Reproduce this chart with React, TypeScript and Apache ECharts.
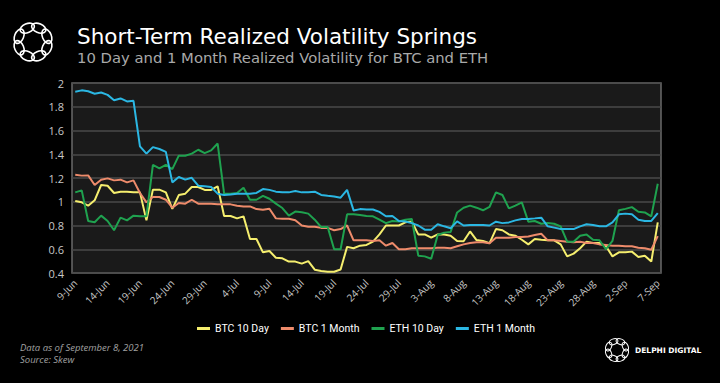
import React, { useEffect, useRef } from "react";
import * as echarts from "echarts";

const MONTHS = ["Jan", "Feb", "Mar", "Apr", "May", "Jun", "Jul", "Aug", "Sep", "Oct", "Nov", "Dec"];
const START = { year: 2021, month: 5, day: 9 };
const DAY_COUNT = 91;

const categories: string[] = (() => {
  const out: string[] = [];
  for (let i = 0; i < DAY_COUNT; i++) {
    const d = new Date(Date.UTC(START.year, START.month, START.day + i));
    out.push(`${d.getUTCDate()}-${MONTHS[d.getUTCMonth()]}`);
  }
  return out;
})();

const btc10Day = [
  1.006, 0.995, 0.967, 1.012, 1.141, 1.135, 1.074, 1.085, 1.085, 1.079,
  1.079, 0.843, 1.102, 1.102, 1.079, 0.94, 1.056, 1.068, 1.124, 1.124,
  1.1, 1.1, 1.13, 0.88, 0.88, 0.86, 0.877, 0.686, 0.686, 0.574,
  0.585, 0.529, 0.524, 0.496, 0.496, 0.479, 0.5, 0.428, 0.417, 0.411,
  0.411, 0.43, 0.62, 0.608, 0.63, 0.636, 0.664, 0.725, 0.8, 0.8,
  0.8, 0.827, 0.833, 0.725, 0.725, 0.697, 0.725, 0.725, 0.714, 0.67,
  0.667, 0.75, 0.677, 0.67, 0.65, 0.77, 0.76, 0.725, 0.714, 0.68,
  0.641, 0.686, 0.68, 0.675, 0.675, 0.641, 0.54, 0.563, 0.608, 0.664,
  0.653, 0.653, 0.625, 0.54, 0.574, 0.574, 0.58, 0.535, 0.546, 0.496,
  0.827,
];

const btc1Month = [
  1.228, 1.22, 1.222, 1.141, 1.186, 1.197, 1.18, 1.186, 1.163, 1.18,
  1.074, 0.995, 1.04, 1.04, 1.017, 0.95, 0.99, 0.984, 1.017, 0.984,
  0.984, 0.984, 0.978, 0.978, 0.978, 0.967, 0.961, 0.961, 0.938, 0.933,
  0.941, 0.86, 0.856, 0.856, 0.845, 0.8, 0.79, 0.79, 0.78, 0.78,
  0.76, 0.77, 0.8, 0.675, 0.675, 0.675, 0.67, 0.675, 0.63, 0.653,
  0.6, 0.6, 0.608, 0.608, 0.608, 0.608, 0.613, 0.613, 0.608, 0.625,
  0.641, 0.653, 0.658, 0.658, 0.65, 0.697, 0.697, 0.697, 0.703, 0.703,
  0.708, 0.72, 0.73, 0.675, 0.675, 0.67, 0.664, 0.658, 0.664, 0.653,
  0.653, 0.641, 0.636, 0.63, 0.63, 0.625, 0.625, 0.613, 0.608, 0.596,
  0.71,
];

const eth10Day = [
  1.079, 1.096, 0.838, 0.827, 0.883, 0.838, 0.76, 0.866, 0.843, 0.883,
  0.877, 0.877, 1.31, 1.281, 1.31, 1.275, 1.388, 1.388, 1.405, 1.438,
  1.41, 1.433, 1.49, 1.068, 1.068, 1.073, 1.118, 1.017, 1.017, 1.05,
  1.025, 0.984, 0.947, 0.883, 0.917, 0.911, 0.9, 0.849, 0.787, 0.787,
  0.6, 0.6, 0.894, 0.894, 0.889, 0.88, 0.877, 0.849, 0.82, 0.838,
  0.833, 0.849, 0.855, 0.546, 0.54, 0.52, 0.72, 0.74, 0.745, 0.91,
  0.95, 0.967, 0.95, 0.928, 0.956, 1.079, 1.057, 0.944, 0.967, 0.995,
  0.832, 0.838, 0.815, 0.821, 0.815, 0.793, 0.664, 0.664, 0.714, 0.725,
  0.68, 0.675, 0.6, 0.67, 0.928, 0.94, 0.955, 0.916, 0.91, 0.877,
  1.152,
];

const eth1Month = [
  1.927, 1.938, 1.93, 1.91, 1.92, 1.9, 1.855, 1.87, 1.845, 1.85,
  1.467, 1.405, 1.46, 1.444, 1.42, 1.163, 1.208, 1.186, 1.202, 1.135,
  1.13, 1.124, 1.068, 1.057, 1.062, 1.068, 1.068, 1.068, 1.074, 1.107,
  1.1, 1.085, 1.079, 1.079, 1.09, 1.079, 1.079, 1.085, 1.057, 1.05,
  1.045, 1.034, 1.1, 0.927, 0.938, 0.935, 0.935, 0.915, 0.878, 0.88,
  0.838, 0.833, 0.82, 0.8, 0.765, 0.765, 0.81, 0.793, 0.777, 0.835,
  0.8, 0.804, 0.804, 0.804, 0.8, 0.832, 0.82, 0.826, 0.843, 0.855,
  0.855, 0.86, 0.866, 0.793, 0.782, 0.77, 0.77, 0.77, 0.793, 0.81,
  0.804, 0.793, 0.793, 0.826, 0.894, 0.9, 0.894, 0.849, 0.838, 0.838,
  0.905,
];

const seriesNames = ["BTC 10 Day", "BTC 1 Month", "ETH 10 Day", "ETH 1 Month"];
const seriesColors = ["#F5EE6E", "#EE8B6B", "#1FA24F", "#2BB7E3"];

function ringLogo(cx: number, cy: number, r: number, er: number, eR: number, lw: number) {
  const children: any[] = [];
  const n = 8;
  for (let k = 0; k < n; k++) {
    const a = (k / n) * Math.PI * 2 + Math.PI / 8;
    children.push({
      type: "ellipse",
      x: cx + r * Math.cos(a),
      y: cy + r * Math.sin(a),
      rotation: -a + Math.PI / 2,
      shape: { cx: 0, cy: 0, rx: eR, ry: er },
      style: { fill: "none", stroke: "#ffffff", lineWidth: lw },
    });
  }
  return { type: "group", children };
}

export default function App() {
  const ref = useRef<HTMLDivElement>(null);
  useEffect(() => {
    document.body.style.margin = "0";
    document.body.style.background = "#000";
    if (!ref.current) return;
    const chart = echarts.init(ref.current, null, { renderer: "svg" });
    const data = [btc10Day, btc1Month, eth10Day, eth1Month];
    chart.setOption({
      animation: false,
      backgroundColor: "#000000",
      textStyle: { fontFamily: "Open Sans" },
      grid: {
        left: 72,
        right: 59,
        top: 83,
        bottom: 110,
        show: true,
        backgroundColor: "#1a1a1a",
        borderColor: "#6a6a6a",
        borderWidth: 1.5,
      },
      legend: {
        data: seriesNames,
        top: 318,
        left: 192,
        icon: "rect",
        itemWidth: 13,
        itemHeight: 3,
        itemGap: 12,
        textStyle: {
          color: "#ffffff",
          fontSize: 10.5,
          fontFamily: "Roboto",
        },
      },
      xAxis: {
        type: "category",
        data: categories,
        boundaryGap: true,
        axisLine: { show: false },
        axisTick: { show: false },
        axisLabel: {
          interval: 4,
          rotate: 45,
          color: "#c8c8c8",
          fontSize: 10,
          margin: 8,
        },
        splitLine: { show: false },
      },
      yAxis: {
        type: "value",
        min: 0.4,
        max: 2,
        interval: 0.2,
        axisLine: { show: false },
        axisTick: { show: false },
        axisLabel: { color: "#c8c8c8", fontSize: 11, margin: 8 },
        splitLine: { lineStyle: { color: "#4a4a4a", width: 1.5 } },
      },
      series: data.map((d, i) => ({
        name: seriesNames[i],
        type: "line",
        data: d,
        showSymbol: false,
        symbol: "none",
        lineStyle: { width: 2, color: seriesColors[i] },
        itemStyle: { color: seriesColors[i] },
      })),
      graphic: [
        ringLogo(33, 42, 15, 4.5, 7.5, 1.6),
        {
          type: "text",
          left: 77,
          top: 25,
          style: {
            text: "Short-Term Realized Volatility Springs",
            fill: "#ffffff",
            font: "21.5px 'DejaVu Sans'",
          },
        },
        {
          type: "text",
          left: 77,
          top: 50,
          style: {
            text: "10 Day and 1 Month Realized Volatility for BTC and ETH",
            fill: "#a9a9a9",
            font: "14.8px 'DejaVu Sans'",
          },
        },
        {
          type: "text",
          left: 20,
          top: 341,
          style: {
            text: "Data as of September 8, 2021\nSource: Skew",
            fill: "#a0a0a0",
            font: "italic 9.5px 'Open Sans'",
            lineHeight: 12,
          },
        },
        ringLogo(617, 350, 9, 2.8, 4.5, 1),
        {
          type: "text",
          left: 635,
          top: 346,
          style: {
            text: "DELPHI DIGITAL",
            fill: "#ffffff",
            font: "bold 7.5px 'DejaVu Sans'",
          },
        },
      ],
    });
    return () => chart.dispose();
  }, []);
  return <div ref={ref} style={{ width: 720, height: 383 }} />;
}
